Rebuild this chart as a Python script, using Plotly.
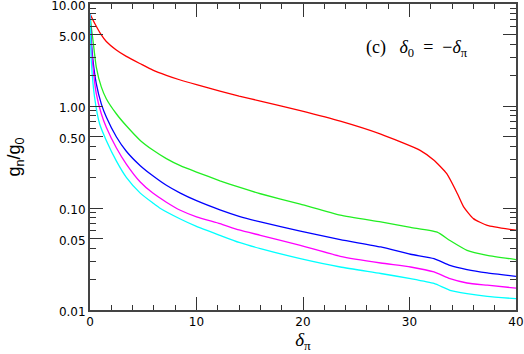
import plotly.graph_objects as go

# valeurs (c)
d_red = [0, 0.5, 1.0, 1.53, 2.47, 3.41, 4.72, 5.9, 7.17, 8.48, 10, 12.2, 14, 16.0, 19.75, 23.5, 27.3, 31.0,
         32.3, 33.5, 34.5, 35.1, 36.0, 37.3, 40]
g_red = [8.0, 6.3, 5.1, 4.3, 3.55, 3.07, 2.6, 2.25, 2.0, 1.8, 1.62, 1.4, 1.25, 1.12, 0.9, 0.71, 0.53, 0.368,
         0.294, 0.217, 0.138, 0.102, 0.0787, 0.0676, 0.0605]

d_green = [0, 0.1, 0.28, 0.59, 1.06, 1.53, 2.47, 3.41, 4.72, 5.9, 7.17, 8.48, 10, 12.2, 14, 16.0, 19.75, 23.5,
           27.3, 30.1, 32.6, 33.8, 35.4, 37.3, 40]
g_green = [8.0, 6.2, 4.4, 2.41, 1.54, 1.18, 0.84, 0.64, 0.46, 0.37, 0.305, 0.26, 0.225, 0.185, 0.16, 0.138,
           0.109, 0.085, 0.073, 0.0646, 0.058, 0.048, 0.0385, 0.0344, 0.0312]

d_blue = [0, 0.1, 0.28, 0.59, 1.06, 1.53, 2.47, 3.41, 4.72, 5.9, 7.17, 8.48, 10, 12.2, 14, 16.0, 19.75, 23.5,
          27.3, 30.1, 32.3, 33.8, 35.4, 37.3, 40]
g_blue = [8.0, 4.8, 2.8, 1.66, 1.05, 0.78, 0.5, 0.36, 0.26, 0.207, 0.167, 0.14, 0.118, 0.096, 0.083, 0.073,
          0.0595, 0.049, 0.0415, 0.0352, 0.0319, 0.0274, 0.0249, 0.0231, 0.0214]

d_mag = [0, 0.1, 0.28, 0.59, 1.06, 1.53, 2.47, 3.41, 4.72, 5.9, 7.17, 8.48, 10, 12.2, 14, 16.0, 19.75, 23.5,
         27.3, 30.1, 32.3, 33.8, 35.4, 37.3, 40]
g_mag = [8.0, 4.2, 2.41, 1.32, 0.84, 0.62, 0.39, 0.27, 0.18, 0.14, 0.114, 0.095, 0.082, 0.0703, 0.061, 0.054,
         0.043, 0.0336, 0.0289, 0.0264, 0.0236, 0.0203, 0.0184, 0.0175, 0.0164]

d_cyan = [0, 0.12, 0.43, 0.9, 1.53, 2.47, 3.41, 4.72, 5.9, 6.54, 8.48, 10, 12.2, 14, 16.0, 19.75, 23.5,
          27.3, 30.1, 32.3, 33.8, 35.4, 37.3, 40]
g_cyan = [8.0, 2.8, 1.22, 0.67, 0.46, 0.29, 0.2, 0.14, 0.112, 0.1, 0.078, 0.066, 0.054, 0.046, 0.04,
          0.0319, 0.0264, 0.0228, 0.0203, 0.0182, 0.0156, 0.0145, 0.0136, 0.0129]

y_ticks = [0.01, 0.05, 0.1, 0.5, 1, 5, 10]
y_labels = ['0.01', '0.05', '0.10', '0.50', '1.00', '5.00', '10.00']

series = [(d_red, g_red, '#ff0000'),
          (d_green, g_green, '#22ee22'),
          (d_blue, g_blue, '#0000ff'),
          (d_mag, g_mag, '#ff00ff'),
          (d_cyan, g_cyan, '#00ffff')]

fig = go.Figure()
for d, g, c in series:
    fig.add_trace(go.Scatter(x=d, y=g, mode='lines', line=dict(color=c, width=1.3, shape='spline', smoothing=0.5),
                             showlegend=False))

axe = dict(showline=True, linecolor='#444', linewidth=2, mirror='allticks', ticks='inside',
           tickcolor='#333', tickwidth=1.3, ticklen=13, showgrid=False, zeroline=False,
           ticklabeloverflow='allow', automargin=False,
           tickfont=dict(family='DejaVu Sans', size=12, color='black'))

fig.update_xaxes(range=[0, 40], tickvals=[0, 10, 20, 30, 40],
                 minor=dict(dtick=2, ticks='inside', ticklen=5, tickcolor='#333', tickwidth=1.2),
                 title=dict(text='<i>δ</i><sub>π</sub>', standoff=4,
                            font=dict(family='Liberation Serif', size=19, color='black')),
                 **axe)
fig.update_yaxes(type='log', range=[-2, 1.0005], tickvals=y_ticks, ticktext=y_labels, ticklabelshift=2,
                 minor=dict(dtick='D1', ticks='inside', ticklen=6, tickcolor='#333', tickwidth=1.2),
                 title=dict(text='g<sub>n</sub>/g<sub>0</sub>', standoff=26,
                            font=dict(family='Liberation Sans', size=18, color='black')),
                 **axe)

# y en log10 pour un axe log
fig.add_annotation(x=30.7, y=0.566, xref='x', yref='y', yanchor='middle', xanchor='center', showarrow=False,
                   text='(c)\u00a0\u00a0 <i>δ</i><sub>0</sub>\u00a0\u00a0=\u00a0\u00a0−<i>δ</i><sub>π</sub>',
                   font=dict(family='Liberation Serif', size=18, color='black'))

fig.update_layout(width=524, height=354, margin=dict(l=90, r=8, t=4, b=44),
                  plot_bgcolor='white', paper_bgcolor='white')
fig.write_html("out.html", config={'displayModeBar': False},
               post_script="document.body.style.margin='0px';")
